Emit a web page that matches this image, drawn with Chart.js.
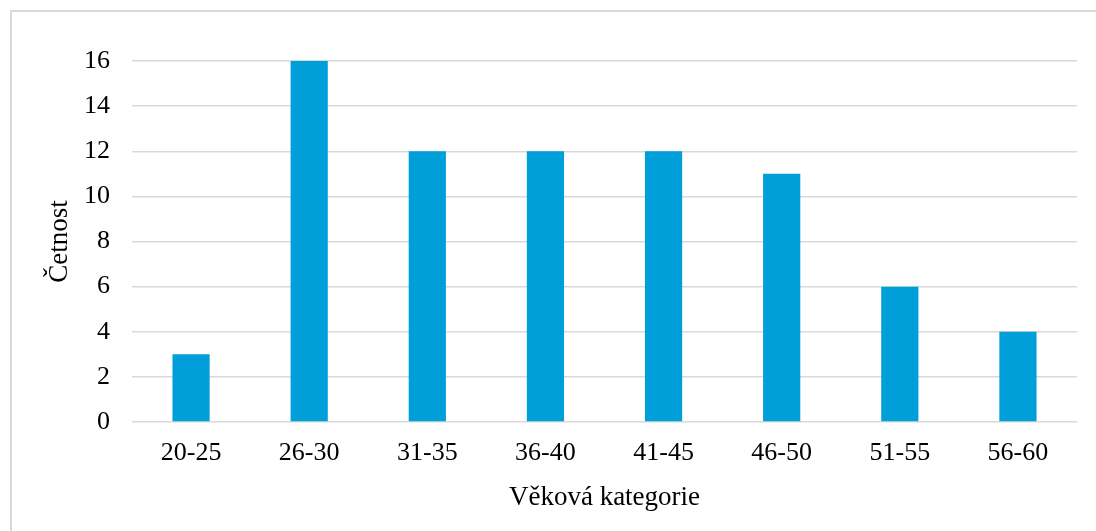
<!DOCTYPE html>
<html>
<head>
<meta charset="utf-8">
<script src="https://cdn.jsdelivr.net/npm/chart.js@4"></script>
<style>
  html, body { margin: 0; padding: 0; background: #fff; overflow: hidden; }
  #frame { position: absolute; left: 10px; top: 10px; width: 1200px; height: 600px;
           border-left: 2px solid #d9d9d9; border-top: 2px solid #d9d9d9; }
  #wrap { position: absolute; left: 0; top: 0; width: 1096px; height: 531px; }
</style>
</head>
<body>
<div id="frame"></div>
<div id="wrap"><canvas id="ageChart" width="1096" height="531"></canvas></div>
<script>
const categories = ['20-25', '26-30', '31-35', '36-40', '41-45', '46-50', '51-55', '56-60'];
const counts = [3, 16, 12, 12, 12, 11, 6, 4];
const yTicks = [0, 2, 4, 6, 8, 10, 12, 14, 16];

const serif = "'Liberation Serif', 'Times New Roman', serif";
const ctx = document.getElementById('ageChart');

new Chart(ctx, {
  type: 'bar',
  data: {
    labels: categories,
    datasets: [{
      label: 'Četnost',
      data: counts,
      backgroundColor: '#009FDA',
      borderWidth: 0,
      categoryPercentage: 0.315,
      barPercentage: 1
    }]
  },
  options: {
    responsive: false,
    animation: false,
    layout: {
      padding: { top: 61, right: 19, bottom: 0, left: 0 }
    },
    scales: {
      x: {
        grid: { display: false },
        border: { display: false },
        ticks: {
          color: '#000',
          padding: 8,
          font: { family: serif, size: 26 }
        },
        title: {
          display: true,
          text: 'Věková kategorie',
          color: '#000',
          font: { family: serif, size: 27 },
          padding: { top: 0, bottom: 17 }
        },
        afterFit: (scale) => { scale.height = 109; }
      },
      y: {
        min: yTicks[0],
        max: yTicks[yTicks.length - 1],
        afterBuildTicks: (scale) => { scale.ticks = yTicks.map(v => ({ value: v })); },
        grid: { color: '#d9d9d9', lineWidth: 1.5, drawTicks: false },
        border: { display: false },
        ticks: {
          color: '#000',
          padding: 22,
          font: { family: serif, size: 26 }
        },
        title: {
          display: true,
          text: 'Četnost',
          color: '#000',
          font: { family: serif, size: 27 },
          padding: { top: 44, bottom: 0 }
        },
        afterFit: (scale) => { scale.width = 132; }
      }
    },
    plugins: {
      legend: { display: false },
      tooltip: { enabled: false }
    }
  }
});
</script>
</body>
</html>
